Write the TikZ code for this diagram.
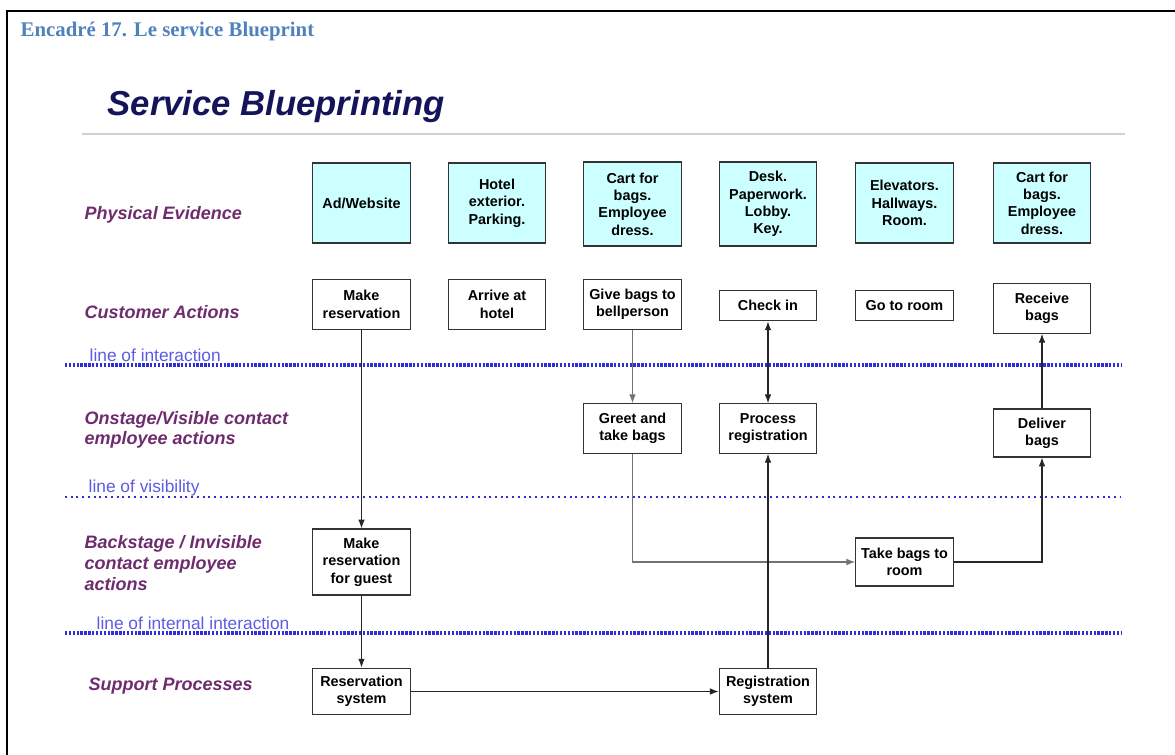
\documentclass[tikz,border=0pt]{standalone}
\usepackage{fontspec}
\setmainfont{Liberation Serif}
\setsansfont{Liberation Sans}
\usepackage{xcolor}
\usepackage{tikz}
\usetikzlibrary{arrows.meta,positioning,calc}

\definecolor{headblue}{HTML}{4F81BD}
\definecolor{navy}{HTML}{14145A}
\definecolor{rowpurple}{HTML}{6E2C6E}
\definecolor{linelabel}{HTML}{5B5BE6}
\definecolor{lineblue}{HTML}{2E2ED6}
\definecolor{evidfill}{HTML}{CCFFFF}

\begin{document}
\begin{tikzpicture}[
    x=0.75pt, y=-0.75pt,
    font=\sffamily\bfseries\fontsize{10.8}{13}\selectfont,
    >=Latex,
    box/.style={draw=black!80, line width=0.9pt, align=center, minimum width=73pt, inner sep=2pt, fill=white},
    evid/.style={box, fill=evidfill, minimum height=60pt},
    act/.style={box, minimum height=37pt},
    rowlabel/.style={anchor=west, align=left, text=rowpurple, font=\sffamily\bfseries\itshape\fontsize{13.5}{15.5}\selectfont},
    linelabel/.style={anchor=west, text=linelabel, font=\sffamily\fontsize{13}{15}\selectfont},
    denseline/.style={lineblue, line width=2.3pt, dash pattern=on 1.8pt off 1.1pt},
    sparseline/.style={lineblue, line width=1.7pt, dash pattern=on 1.5pt off 2.8pt},
    arrow/.style={->, line width=0.8pt, black!85}
]
\useasboundingbox (0,0) rectangle (1175,755);
% frame and headings
\draw[line width=1.6pt] (7,755) -- (7,11) -- (1175,11);
\node[anchor=west, text=headblue, font=\rmfamily\bfseries\fontsize{15.6}{18}\selectfont] (encadre) at (16,31) {Encadré 17. Le service Blueprint};
\node[anchor=west, text=navy, font=\sffamily\bfseries\itshape\fontsize{26}{30}\selectfont] (title) at (103,107) {Service Blueprinting};
\draw[black!18, line width=2.2pt] (82,134) -- (1125,134);

% row labels
\node[rowlabel] (lpe) at (80,215) {Physical Evidence};
\node[rowlabel] (lca) at (80,312) {Customer Actions};
\node[rowlabel] (lon) at (80,430) {Onstage/Visible contact\\employee actions};
\node[rowlabel] (lback) at (80,563) {Backstage / Invisible\\contact employee\\actions};
\node[rowlabel] (lsup) at (84,686) {Support Processes};

% lines
\draw[denseline] (65,365) -- (1121,365);
\draw[sparseline] (65,497) -- (1121,497);
\draw[denseline] (65,633) -- (1121,633);
\node[linelabel] (linter) at (85,355) {line of interaction};
\node[linelabel] (lvis) at (84,488) {line of visibility};
\node[linelabel] (lint) at (92,623) {line of internal interaction};

% physical evidence
\node[evid] (ad) at (361.5,203) {Ad/Website};
\node[evid] (hotel) at (497,203) {Hotel\\exterior.\\Parking.};
\node[evid, minimum height=63pt] (cart) at (632.5,204) {Cart for\\bags.\\Employee\\dress.};
\node[evid, minimum height=63pt] (desk) at (768,204) {Desk.\\Paperwork.\\Lobby.\\Key.};
\node[evid] (elev) at (904.5,203) {Elevators.\\Hallways.\\Room.};
\node[evid] (cart2) at (1042,203) {Cart for\\bags.\\Employee\\dress.};

% customer actions
\node[act] (mkres) at (361.5,304.5) {Make\\reservation};
\node[act] (arrive) at (497,304.5) {Arrive at\\hotel};
\node[act] (givebags) at (632.5,304.5) {Give bags to\\bellperson};
\node[act, minimum height=23pt] (checkin) at (768,305.5) {Check in};
\node[act, minimum height=23pt] (goroom) at (904.5,305.5) {Go to room};
\node[act] (receive) at (1042,308.5) {Receive\\bags};

% onstage
\node[act] (greet) at (632.5,428.5) {Greet and\\take bags};
\node[act] (procreg) at (768,428.5) {Process\\registration};
\node[act, minimum height=36pt] (deliver) at (1042,433) {Deliver\\bags};

% backstage
\node[act, minimum height=49.5pt] (mkguest) at (361.5,562) {Make\\reservation\\for guest};
\node[act, minimum height=36pt] (takebags) at (904.5,562) {Take bags to\\room};

% support
\node[act, minimum height=35pt] (ressys) at (361.5,691.5) {Reservation\\system};
\node[act, minimum height=35pt] (regsys) at (768,691.5) {Registration\\system};

% connectors
\draw[arrow] (mkres) -- (mkguest);
\draw[arrow] (mkguest) -- (ressys);
\draw[arrow, black!55] (givebags) -- (greet);
\draw[arrow, <->] (checkin) -- (procreg);
\draw[arrow, black!55] (greet.south) |- (takebags.west);
\draw[arrow] (takebags.east) -| (deliver.south);
\draw[arrow] (deliver) -- (receive);
\draw[arrow] (regsys) -- (procreg);
\draw[arrow] (ressys) -- (regsys);
\end{tikzpicture}
\end{document}
